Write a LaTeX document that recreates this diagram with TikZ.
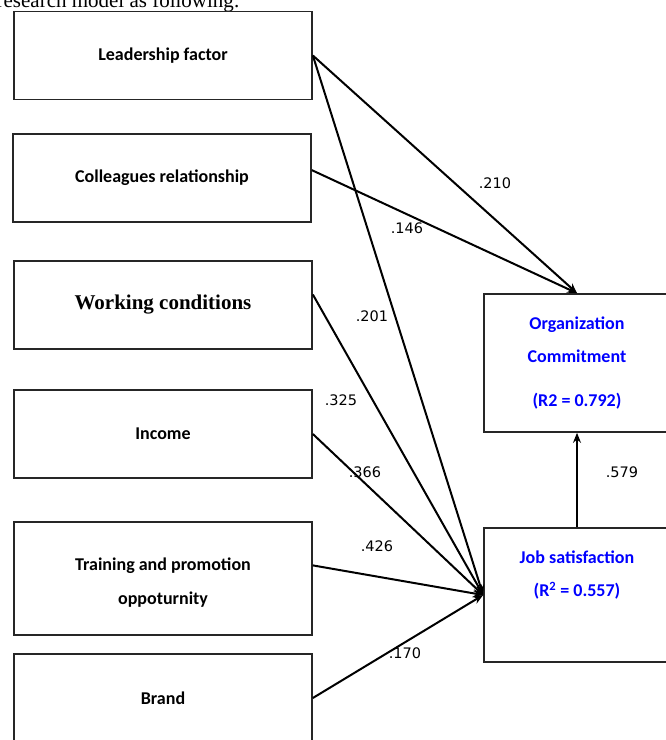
\documentclass[tikz,border=0pt]{standalone}
\usepackage{fontspec}
\setmainfont{Carlito}
\newfontfamily\captionfont{Liberation Serif}
\newfontfamily\numfont{DejaVu Sans}
\usetikzlibrary{arrows.meta}
\definecolor{outcomeBlue}{RGB}{0,0,255}

\begin{document}
\begin{tikzpicture}
[x=1pt,y=-1pt,
  nodeDecorate/.style={shape=rectangle,draw=black!85,line width=1.7pt,inner sep=0pt,
    minimum width=298pt,minimum height=88pt,align=center,
    font=\bfseries\fontsize{18}{34}\selectfont},%
  outcomeDecorate/.style={nodeDecorate,minimum width=186pt,text=outcomeBlue,
    font=\bfseries\fontsize{18}{33}\selectfont},%
  EdgeStyle/.style={-{Stealth[length=10pt,width=8pt]},line width=2pt},%
  LabelStyle/.style={inner sep=0pt,font=\numfont\fontsize{14.5}{14.5}\selectfont}]
\useasboundingbox (0,0) rectangle (666,740);
%% text above the model (cut by the page)
\node (caption) at (240,7) [anchor=base east,inner sep=0pt,
  font=\captionfont\fontsize{21}{21}\selectfont] {research model as following:};
%% nodes or vertices
\foreach \nodename/\x/\y/\txt in {
  Leadership/163/55.5/Leadership factor, Colleagues/162/178/Colleagues relationship,
  Income/163/434/Income, Brand/163/698/Brand}
{
  \node (\nodename) at (\x,\y) [nodeDecorate] {\txt};
}
\node (Working) at (163,305) [nodeDecorate,
  font=\captionfont\bfseries\fontsize{21}{21}\selectfont] {Working conditions};
\node (Training) at (163,578.5) [nodeDecorate,minimum height=113pt]
  {\rule{0pt}{21.5pt}Training and promotion\\oppoturnity};
\node (Org) at (577,363) [outcomeDecorate,minimum height=138pt]
  {Organization\\Commitment\\[11pt](R2 = 0.792)};
\node (Job) at (577,595) [outcomeDecorate,minimum height=134pt]
  {Job satisfaction\\(R\textsuperscript{2} = 0.557)\\\strut};
%% edges or lines
\foreach \startnode/\endnode in {
  Leadership.east/Org.north, Colleagues.3/Org.north,
  Leadership.east/Job.west, Working.4/Job.west,
  Income.east/Job.west, Training.5/Job.west,
  Brand.east/Job.west, Job.north/Org.south}
{
  \draw[EdgeStyle] (\startnode) -- (\endnode);
}
%% path coefficients
\foreach \lname/\x/\y/\coef in {
  LeadOrg/495/183/.210, CollOrg/407/228/.146, LeadJob/372/316/.201,
  WorkJob/341/400/.325, IncJob/365/472/.366, TrainJob/377/546/.426,
  BrandJob/405/653/.170, JobOrg/622/472/.579}
{
  \node (\lname) at (\x,\y) [LabelStyle] {\coef};
}
\end{tikzpicture}
\end{document}
